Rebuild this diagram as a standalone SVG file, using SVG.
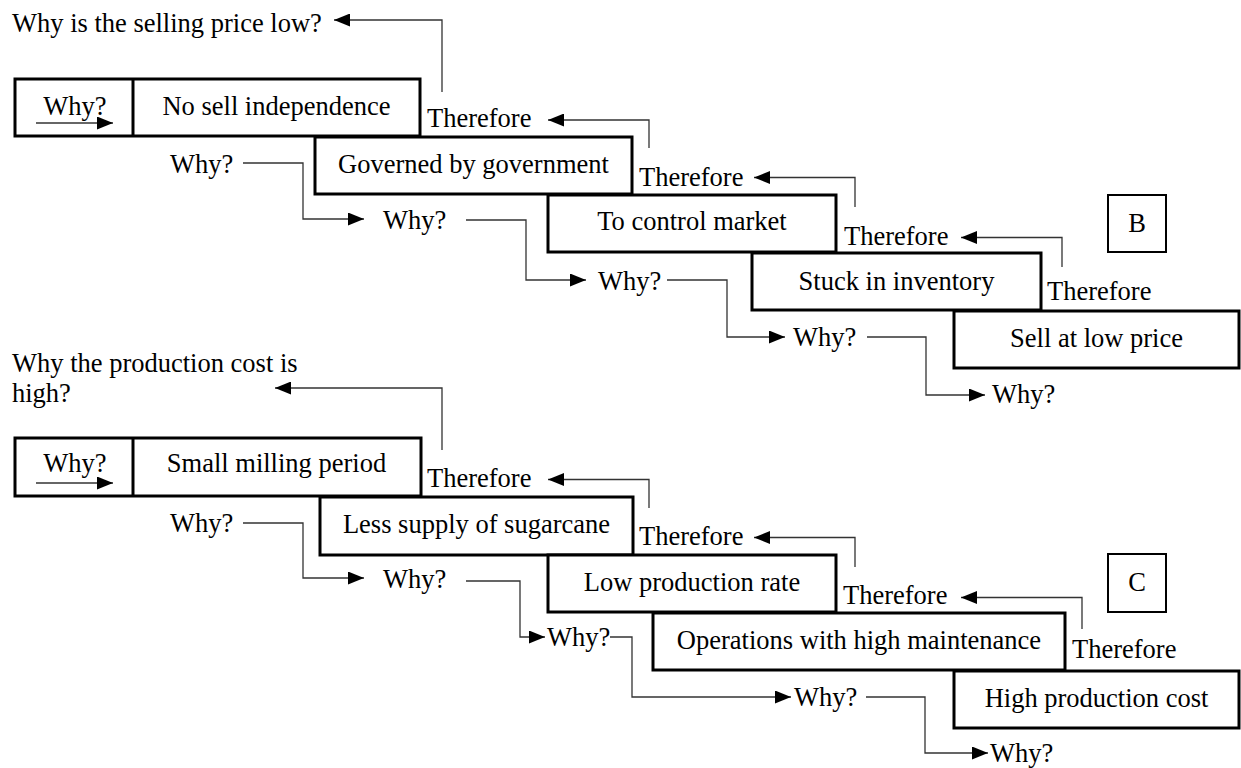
<svg xmlns="http://www.w3.org/2000/svg" width="1241" height="768" viewBox="0 0 1241 768">
<defs>
<marker id="ah" markerUnits="userSpaceOnUse" markerWidth="16" markerHeight="13" refX="16" refY="6.5" orient="auto">
<path d="M0,0 L16,6.5 L0,13 z" fill="#000"/>
</marker>
<style>
text{font-family:"Liberation Serif","Times New Roman",serif;font-size:26.5px;fill:#000}
.c{text-anchor:middle}
.box{fill:#fff;stroke:#000;stroke-width:3}
.tag{fill:#fff;stroke:#000;stroke-width:2}
.div{stroke:#000;stroke-width:3}
.con{fill:none;stroke:#333;stroke-width:1.3;marker-end:url(#ah)}
</style>
</defs>
<rect width="1241" height="768" fill="#fff"/>

<!-- Section B -->
<g id="title-b"><text x="12" y="32">Why is the selling price low?</text></g>
<g id="b1">
<rect class="box" x="15" y="79" width="405" height="57"/>
<line class="div" x1="133" y1="79" x2="133" y2="136"/>
<text class="c" x="75" y="115">Why?</text>
<text class="c" x="276.5" y="115">No sell independence</text>
</g>
<g id="b2"><rect class="box" x="315" y="137" width="317" height="57"/><text class="c" x="473.5" y="173">Governed by government</text></g>
<g id="b3"><rect class="box" x="548" y="195" width="288" height="57"/><text class="c" x="692" y="230">To control market</text></g>
<g id="b4"><rect class="box" x="752" y="253" width="289" height="57"/><text class="c" x="896.5" y="290">Stuck in inventory</text></g>
<g id="b5"><rect class="box" x="954" y="311" width="285" height="57"/><text class="c" x="1096.5" y="347">Sell at low price</text></g>
<g id="tag-b"><rect class="tag" x="1108" y="195" width="58" height="57"/><text class="c" x="1137" y="232">B</text></g>
<g id="labels-b">
<text x="427" y="127">Therefore</text>
<text x="639" y="186">Therefore</text>
<text x="844" y="245">Therefore</text>
<text x="1047" y="300">Therefore</text>
<text x="170" y="173">Why?</text>
<text x="383" y="229">Why?</text>
<text x="598" y="290">Why?</text>
<text x="793" y="346">Why?</text>
<text x="992" y="403">Why?</text>
</g>

<!-- Section C -->
<g id="title-c"><text x="12" y="372">Why the production cost is</text><text x="12" y="402">high?</text></g>
<g id="c1">
<rect class="box" x="15" y="438" width="406" height="58"/>
<line class="div" x1="133" y1="438" x2="133" y2="496"/>
<text class="c" x="75" y="472">Why?</text>
<text class="c" x="276.5" y="472">Small milling period</text>
</g>
<g id="c2"><rect class="box" x="320" y="497" width="313" height="58"/><text class="c" x="476.5" y="533">Less supply of sugarcane</text></g>
<g id="c3"><rect class="box" x="548" y="555" width="288" height="57"/><text class="c" x="692" y="591">Low production rate</text></g>
<g id="c4"><rect class="box" x="653" y="613" width="412" height="57"/><text class="c" x="859" y="649">Operations with high maintenance</text></g>
<g id="c5"><rect class="box" x="954" y="671" width="285" height="57"/><text class="c" x="1096.5" y="707">High production cost</text></g>
<g id="tag-c"><rect class="tag" x="1108" y="554" width="58" height="58"/><text class="c" x="1137" y="591">C</text></g>
<g id="labels-c">
<text x="427" y="487">Therefore</text>
<text x="639" y="545">Therefore</text>
<text x="843" y="604">Therefore</text>
<text x="1072" y="658">Therefore</text>
<text x="170" y="532">Why?</text>
<text x="383" y="588">Why?</text>
<text x="547" y="646">Why?</text>
<text x="794" y="706">Why?</text>
<text x="990" y="762">Why?</text>
</g>

<g id="connectors">
<path class="con" d="M442,92 V20 H334"/>
<path class="con" d="M36,123 H113"/>
<path class="con" d="M649,148 V120 H548"/>
<path class="con" d="M855,207 V177.5 H754"/>
<path class="con" d="M1062,267 V237.5 H961"/>
<path class="con" d="M243,163 H303 V219 H364"/>
<path class="con" d="M466,220 H526 V280 H586"/>
<path class="con" d="M667,280 H727 V337 H785"/>
<path class="con" d="M867,337 H926 V395 H985"/>

<path class="con" d="M442,450 V388 H275"/>
<path class="con" d="M36,483 H113"/>
<path class="con" d="M649,508 V479.5 H548"/>
<path class="con" d="M855,567 V537.5 H754"/>
<path class="con" d="M1082,629 V597.5 H961"/>
<path class="con" d="M243,523 H303 V578 H364"/>
<path class="con" d="M466,581 H520 V637 H545"/>
<path class="con" d="M610,637 H632 V697 H791"/>
<path class="con" d="M866,697 H925 V753 H988"/>
</g>
</svg>
